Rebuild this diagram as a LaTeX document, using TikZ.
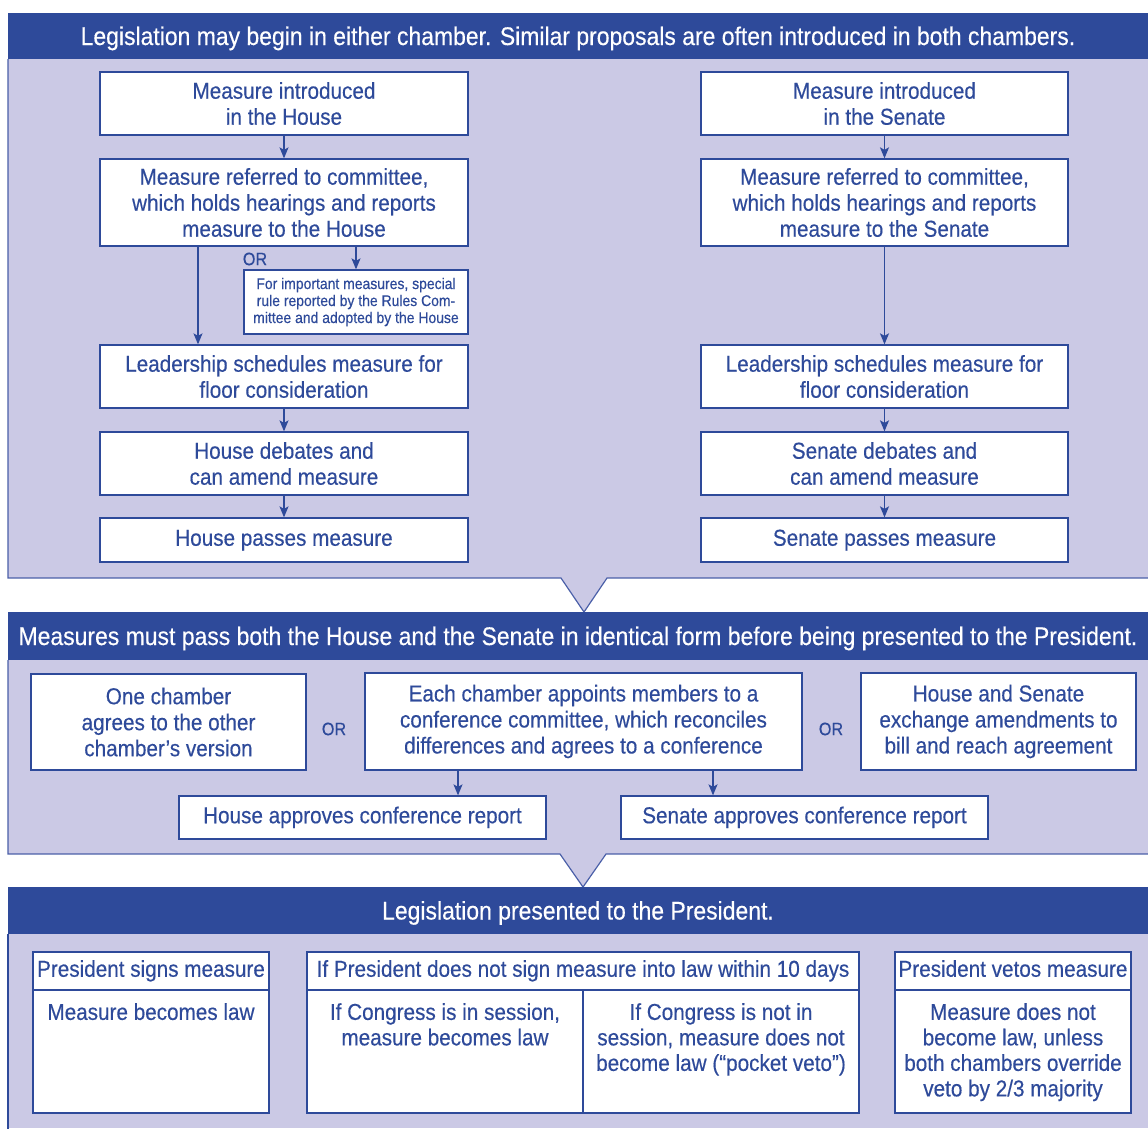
\documentclass[tikz,border=0pt]{standalone}
\usepackage{fontspec}
\setmainfont{Liberation Sans}[FakeStretch=0.9, FakeBold=0.35]
\usetikzlibrary{arrows.meta}
\definecolor{bannerblue}{HTML}{2E4A9A}
\definecolor{lav}{HTML}{CBC9E5}
\definecolor{edgeblue}{HTML}{4A5FA8}
\begin{document}
\begin{tikzpicture}[x=1pt,y=-1pt,
  box/.style={draw=bannerblue, fill=white, line width=1.3pt, text=bannerblue, align=center, inner sep=0pt, font=\fontsize{23}{26}\selectfont},
  hdr/.style={box, text height=16.5pt, text depth=5pt},
  smallbox/.style={box, font=\fontsize{15.5}{17}\selectfont},
  orlabel/.style={text=bannerblue, font=\fontsize{18}{20}\selectfont, inner sep=0pt},
  banner/.style={fill=bannerblue, text=white, inner sep=0pt, font=\fontsize{25.5}{28}\selectfont, text height=22pt, text depth=4pt},
  edge/.style={draw=edgeblue, line width=1.2pt},
  arr/.style={draw=bannerblue, line width=1.3pt, -{Stealth[length=11pt,width=9pt,inset=2.5pt]}},
  bodytext/.style={text=bannerblue, align=center, inner sep=0pt, anchor=north, font=\fontsize{23}{25.5}\selectfont},
]
\useasboundingbox (0,0) rectangle (1148,1128);

% ---------- panels ----------
\fill[lav] (8,59) rectangle (1148,578);
\fill[lav] (561,577) -- (584,612) -- (607,577) -- cycle;
\draw[edge] (8,59) -- (8,578) -- (561,578) -- (584,612) -- (607,578) -- (1150,578);

\fill[lav] (8,660) rectangle (1148,854);
\fill[lav] (560,853) -- (583,887) -- (606,853) -- cycle;
\draw[edge] (8,660) -- (8,854) -- (560,854) -- (583,887) -- (606,854) -- (1150,854);

\fill[lav] (8,934) rectangle (1148,1128);
\draw[edge, draw=bannerblue, line width=1.6pt] (8,934) -- (8,1130);

% ---------- banners ----------
\node[banner, minimum width=1140pt, minimum height=46pt] (b1) at (578,36)
  {Legislation may begin in either chamber. Similar proposals are often introduced in both chambers.};
\node[banner, minimum width=1140pt, minimum height=48pt] (b2) at (578,636)
  {Measures must pass both the House and the Senate in identical form before being presented to the President.};
\node[banner, minimum width=1140pt, minimum height=47pt] (b3) at (578,910.5)
  {Legislation presented to the President.};

% ---------- section 1: House ----------
\node[box, minimum width=368pt, minimum height=63pt] (h1) at (284,103.5) {Measure introduced\\in the House};
\node[box, minimum width=368pt, minimum height=87pt] (h2) at (284,202.5) {Measure referred to committee,\\which holds hearings and reports\\measure to the House};
\node[smallbox, minimum width=224pt, minimum height=64pt] (hs) at (356,302) {For important measures, special\\rule reported by the Rules Com-\\mittee and adopted by the House};
\node[orlabel] (hor) at (255,259) {OR};
\node[box, minimum width=368pt, minimum height=63pt] (h3) at (284,376.5) {Leadership schedules measure for\\floor consideration};
\node[box, minimum width=368pt, minimum height=63pt] (h4) at (284,463.5) {House debates and\\can amend measure};
\node[hdr, minimum width=368pt, minimum height=44pt] (h5) at (284,540) {House passes measure};
\coordinate (hx) at (198,0);

\draw[arr] (h1) -- (h2);
\draw[arr] (h2.south -| hx) -- (h3.north -| hx);
\draw[arr] (h2.south -| hs.north) -- (hs.north);
\draw[arr] (h3) -- (h4);
\draw[arr] (h4) -- (h5);

% ---------- section 1: Senate ----------
\node[box, minimum width=367pt, minimum height=63pt] (s1) at (884.5,103.5) {Measure introduced\\in the Senate};
\node[box, minimum width=367pt, minimum height=87pt] (s2) at (884.5,202.5) {Measure referred to committee,\\which holds hearings and reports\\measure to the Senate};
\node[box, minimum width=367pt, minimum height=63pt] (s3) at (884.5,376.5) {Leadership schedules measure for\\floor consideration};
\node[box, minimum width=367pt, minimum height=63pt] (s4) at (884.5,463.5) {Senate debates and\\can amend measure};
\node[hdr, minimum width=367pt, minimum height=44pt] (s5) at (884.5,540) {Senate passes measure};

\draw[arr] (s1) -- (s2);
\draw[arr] (s2) -- (s3);
\draw[arr] (s3) -- (s4);
\draw[arr] (s4) -- (s5);

% ---------- section 2 ----------
\node[box, minimum width=275pt, minimum height=96pt] (ca) at (168.5,722) {One chamber\\agrees to the other\\chamber’s version};
\node[orlabel] (or1) at (334,729) {OR};
\node[box, minimum width=437pt, minimum height=97pt] (cb) at (583.5,721.5) {Each chamber appoints members to a\\conference committee, which reconciles\\differences and agrees to a conference};
\node[orlabel] (or2) at (831,729) {OR};
\node[box, minimum width=275pt, minimum height=97pt] (cc) at (998.5,721.5) {House and Senate\\exchange amendments to\\bill and reach agreement};
\node[hdr, minimum width=367pt, minimum height=43pt] (cd) at (362.5,817.5) {House approves conference report};
\node[hdr, minimum width=367pt, minimum height=43pt] (ce) at (804.5,817.5) {Senate approves conference report};
\coordinate (dx) at (458,0);
\coordinate (ex) at (713,0);
\draw[arr] (cb.south -| dx) -- (cd.north -| dx);
\draw[arr] (cb.south -| ex) -- (ce.north -| ex);

% ---------- section 3 ----------
\node[box, minimum width=236pt, minimum height=123pt] (fb) at (151,1051.5) {};
\node[hdr, minimum width=236pt, minimum height=38pt] (fh) at (151,971) {President signs measure};
\node[bodytext] (ft) at (151,1003) {Measure becomes law};

\node[box, minimum width=276pt, minimum height=123pt] (gbl) at (445,1051.5) {};
\node[box, minimum width=276pt, minimum height=123pt] (gbr) at (721,1051.5) {};
\node[hdr, minimum width=552pt, minimum height=38pt] (gh) at (583,971) {If President does not sign measure into law within 10 days};
\node[bodytext] (gtl) at (445,1003) {If Congress is in session,\\measure becomes law};
\node[bodytext] (gtr) at (721,1003) {If Congress is not in\\session, measure does not\\become law (“pocket veto”)};

\node[box, minimum width=236pt, minimum height=123pt] (hb) at (1013,1051.5) {};
\node[hdr, minimum width=236pt, minimum height=38pt] (hh) at (1013,971) {President vetos measure};
\node[bodytext] (ht) at (1013,1003) {Measure does not\\become law, unless\\both chambers override\\veto by 2/3 majority};
\end{tikzpicture}
\end{document}
